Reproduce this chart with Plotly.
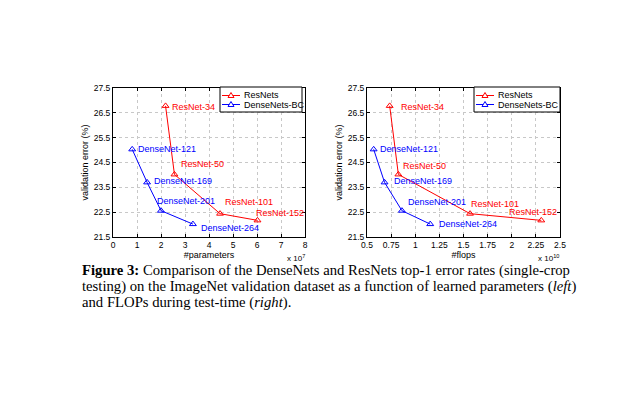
import plotly.graph_objects as go

# page body has an 8px default margin; figure is sized to fit inside the window
OFF = 8
W, H = 643 - 2 * OFF, 399 - 2 * OFF

# ---------------- data ----------------
resnet_names = ["ResNet-34", "ResNet-50", "ResNet-101", "ResNet-152"]
resnet_err = [26.78, 24.02, 22.44, 22.17]
resnet_params = [2.19, 2.56, 4.46, 6.02]      # x 1e7
resnet_flops = [0.735, 0.825, 1.568, 2.306]    # x 1e10

densenet_names = ["DenseNet-121", "DenseNet-169", "DenseNet-201", "DenseNet-264"]
densenet_err = [25.03, 23.70, 22.56, 22.02]
densenet_params = [0.80, 1.42, 2.00, 3.33]     # x 1e7
densenet_flops = [0.569, 0.682, 0.862, 1.155]  # x 1e10

series_names = ["ResNets", "DenseNets-BC"]

y_ticks = [21.5, 22.5, 23.5, 24.5, 25.5, 26.5, 27.5]
x1_ticks = [0, 1, 2, 3, 4, 5, 6, 7, 8]
x2_ticks = [0.5, 0.75, 1, 1.25, 1.5, 1.75, 2, 2.25, 2.5]
x2_ticktext = ["0.5", "0.75", "1", "1.25", "1.5", "1.75", "2", "2.25", "2.5"]

# label offsets (pixels) -- style only
res_off_left = [(4, -1), (5, 10), (3, 12), (-3, 7)]
den_off_left = [(4, 0), (5, 1), (-6, 10), (6, -4)]
res_off_right = [(9, -1), (3, 8), (-1, 10), (-34, 8)]
den_off_right = [(4, 0), (7, 1), (4, 9), (7, 0)]

RED = "rgb(255,0,0)"
BLUE = "rgb(0,0,255)"
FONT = "Liberation Sans, Arial, sans-serif"


def px_x(p):
    return (p - OFF) / W


def px_y(p):
    return 1 - (p - OFF) / H


fig = go.Figure()

marker_style = dict(symbol="triangle-up-open", size=6, line=dict(width=1))

panels = [("x", "y", resnet_params, densenet_params),
          ("x2", "y2", resnet_flops, densenet_flops)]
for xa, ya, rx, dx in panels:
    fig.add_trace(go.Scatter(x=rx, y=resnet_err, mode="lines+markers", name=series_names[0],
                             line=dict(color=RED, width=1), marker=dict(color=RED, **marker_style),
                             xaxis=xa, yaxis=ya, showlegend=False))
    fig.add_trace(go.Scatter(x=dx, y=densenet_err, mode="lines+markers", name=series_names[1],
                             line=dict(color=BLUE, width=1), marker=dict(color=BLUE, **marker_style),
                             xaxis=xa, yaxis=ya, showlegend=False))

annotations = []
shapes = []


def add_labels(names, xs, ys, offs, color, xr, yr):
    for n, xv, yv, (ddx, ddy) in zip(names, xs, ys, offs):
        annotations.append(dict(x=xv, y=yv, xref=xr, yref=yr, text=n, showarrow=False,
                                xanchor="left", yanchor="middle", xshift=ddx, yshift=ddy,
                                font=dict(family=FONT, size=9, color=color)))


add_labels(resnet_names, resnet_params, resnet_err, res_off_left, RED, "x", "y")
add_labels(densenet_names, densenet_params, densenet_err, den_off_left, BLUE, "x", "y")
add_labels(resnet_names, resnet_flops, resnet_err, res_off_right, RED, "x2", "y2")
add_labels(densenet_names, densenet_flops, densenet_err, den_off_right, BLUE, "x2", "y2")

# custom legends (box, line sample, open triangle, text)
for (bx0, bx1) in [(220, 302), (474, 560)]:
    by0, by1 = 87, 112
    shapes.append(dict(type="rect", xref="paper", yref="paper",
                       x0=px_x(bx0), x1=px_x(bx1), y0=px_y(by1), y1=px_y(by0),
                       line=dict(color="black", width=1), fillcolor="white", layer="above"))
    for name, color, ly in [(series_names[0], RED, 95.5), (series_names[1], BLUE, 104.5)]:
        lx0, lx1 = bx0 + 2, bx0 + 20
        cx = (lx0 + lx1) / 2
        shapes.append(dict(type="line", xref="paper", yref="paper",
                           x0=px_x(lx0), x1=px_x(lx1), y0=px_y(ly), y1=px_y(ly),
                           line=dict(color=color, width=1), layer="above"))
        path = "M {:.5f},{:.5f} L {:.5f},{:.5f} L {:.5f},{:.5f} Z".format(
            px_x(cx), px_y(ly - 3), px_x(cx - 3), px_y(ly + 2), px_x(cx + 3), px_y(ly + 2))
        shapes.append(dict(type="path", xref="paper", yref="paper", path=path,
                           line=dict(color=color, width=1), fillcolor="white", layer="above"))
        annotations.append(dict(x=px_x(lx1 + 2), y=px_y(ly), xref="paper", yref="paper", text=name,
                                showarrow=False, xanchor="left", yanchor="middle",
                                font=dict(family=FONT, size=9, color="black")))

# exponent labels
for xr_px, txt in [(307, "x 10<sup>7</sup>"), (561, "x 10<sup>10</sup>")]:
    annotations.append(dict(x=px_x(xr_px), y=px_y(258), xref="paper", yref="paper", text=txt,
                            showarrow=False, xanchor="right", yanchor="middle",
                            font=dict(family=FONT, size=8, color="black")))

# caption
cap_lines = [
    "<b>Figure 3:</b> Comparison of the DenseNets and ResNets top-1 error rates (single-crop",
    "testing) on the ImageNet validation dataset as a function of learned parameters (<i>left</i>)",
    "and FLOPs during test-time (<i>right</i>).",
]
for i, line in enumerate(cap_lines):
    annotations.append(dict(x=px_x(80), y=px_y(270 + 16 * i), xref="paper", yref="paper", text=line,
                            showarrow=False, xanchor="left", yanchor="middle",
                            font=dict(family="Liberation Serif, Times New Roman, serif", size=14.7,
                                      color="black")))

xdom1 = [px_x(113), px_x(305)]
xdom2 = [px_x(367), px_x(560)]
ydom = [px_y(237), px_y(88)]

axis_common = dict(showline=True, linecolor="black", linewidth=1, mirror="ticks",
                   ticks="inside", ticklen=3, tickcolor="black",
                   showgrid=True, gridcolor="rgb(200,200,200)", griddash="dot", gridwidth=1,
                   zeroline=False, tickfont=dict(family=FONT, size=8.5, color="black"),
                   automargin=False)

fig.update_layout(
    width=W, height=H,
    margin=dict(l=0, r=0, t=0, b=0),
    paper_bgcolor="white", plot_bgcolor="white",
    font=dict(family=FONT, color="black"),
    xaxis=dict(domain=xdom1, range=[0, 8], tickvals=x1_ticks, anchor="y",
               title=dict(text="#parameters", font=dict(family=FONT, size=9), standoff=2), **axis_common),
    yaxis=dict(domain=ydom, range=[21.5, 27.5], tickvals=y_ticks, ticktext=[str(v) for v in y_ticks],
               anchor="x",
               title=dict(text="validation error (%)", font=dict(family=FONT, size=9), standoff=3),
               **axis_common),
    xaxis2=dict(domain=xdom2, range=[0.5, 2.5], tickvals=x2_ticks, ticktext=x2_ticktext, anchor="y2",
                title=dict(text="#flops", font=dict(family=FONT, size=9), standoff=2), **axis_common),
    yaxis2=dict(domain=ydom, range=[21.5, 27.5], tickvals=y_ticks, ticktext=[str(v) for v in y_ticks],
                anchor="x2",
                title=dict(text="validation error (%)", font=dict(family=FONT, size=9), standoff=3),
                **axis_common),
    annotations=annotations,
    shapes=shapes,
    showlegend=False,
)

fig.write_html("out.html")
